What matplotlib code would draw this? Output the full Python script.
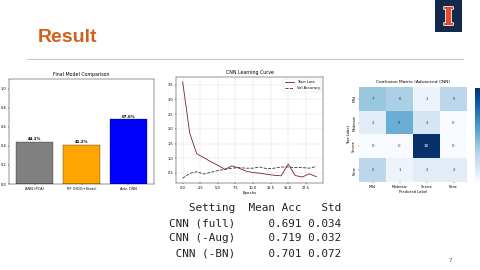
import matplotlib
matplotlib.use("Agg")
import matplotlib.pyplot as plt
import matplotlib.patheffects as pe
import numpy as np

# ---------------- data ----------------
models = ["ANN (PCA)", "RF (HOG+Stats)", "Adv. CNN"]
model_acc = [0.441, 0.412, 0.676]
bar_colors = ["gray", "orange", "blue"]

epochs = list(range(20))
train_loss = [3.60, 1.85, 1.15, 1.02, 0.88, 0.76, 0.62, 0.74, 0.66, 0.56,
              0.51, 0.49, 0.45, 0.42, 0.40, 0.80, 0.41, 0.36, 0.47, 0.37]
val_acc = [0.32, 0.48, 0.54, 0.46, 0.52, 0.58, 0.62, 0.66, 0.68, 0.66,
           0.66, 0.70, 0.64, 0.66, 0.70, 0.70, 0.68, 0.68, 0.66, 0.72]

classes = ["Mild", "Moderate", "Severe", "None"]
conf = np.array([[7, 6, 1, 5],
                 [2, 9, 3, 0],
                 [0, 0, 18, 0],
                 [5, 1, 2, 2]])

settings = ["CNN (full)", "CNN (-Aug)", "CNN (-BN)"]
mean_acc = [0.691, 0.719, 0.701]
std_acc = [0.034, 0.032, 0.072]

# ---------------- figure ----------------
W, H = 480, 270
fig = plt.figure(figsize=(W / 100, H / 100), dpi=100)
fig.patch.set_facecolor("white")


def px_axes(x0, y0, x1, y1, **kw):
    return fig.add_axes([x0 / W, 1 - y1 / H, (x1 - x0) / W, (y1 - y0) / H], **kw)


def fx(x):
    return x / W


def fy(y):
    return 1 - y / H


# slide title
fig.text(fx(38), fy(37), "Result", color="#D2601A", fontsize=14, fontweight="bold",
         family="Liberation Sans", va="center", ha="left")
fig.add_artist(plt.Line2D([fx(27), fx(463)], [fy(59), fy(59)], color="#c8c8c8", lw=0.8))

# logo
logo = px_axes(435, 0, 462, 32)
logo.set_facecolor("#13294B")
logo.set_xticks([]); logo.set_yticks([])
for s in logo.spines.values():
    s.set_visible(False)
logo.text(0.5, 0.45, "I", color="#E84A27", fontsize=17, fontweight="bold",
          family="DejaVu Serif", ha="center", va="center",
          path_effects=[pe.withStroke(linewidth=1.2, foreground="white")])

# page number
fig.text(fx(450), fy(260), "7", fontsize=4, color="#555555", ha="center", va="center")

tick_fs = 2.6

# ---------------- bar chart ----------------
ax1 = px_axes(9, 79, 154, 184)
ax1.bar(range(len(models)), model_acc, color=bar_colors, width=0.8,
        edgecolor="black", linewidth=0.2)
for i, v in enumerate(model_acc):
    ax1.text(i, v + 0.01, f"{v*100:.1f}%", ha="center", va="bottom",
             fontsize=2.8, fontweight="bold")
ax1.set_xlim(-0.55, 2.55)
ax1.set_ylim(0, 1.1)
ax1.set_xticks(range(len(models)))
ax1.set_xticklabels(models)
ax1.set_yticks([0, 0.2, 0.4, 0.6, 0.8, 1.0])
ax1.tick_params(labelsize=tick_fs, length=1, width=0.3, pad=1)
ax1.set_title("Final Model Comparison", fontsize=3.4, pad=2)
for s in ax1.spines.values():
    s.set_linewidth(0.3)

# ---------------- learning curve ----------------
ax2 = px_axes(176, 77, 323, 183)
ax2.plot(epochs, train_loss, color="#7b1e3c", lw=0.6, label="Train Loss")
ax2.plot(epochs, val_acc, color="#333333", lw=0.6, ls="--", label="Val Accuracy")
ax2.set_xticks([0, 2.5, 5, 7.5, 10, 12.5, 15, 17.5])
ax2.set_yticks([0.5, 1.0, 1.5, 2.0, 2.5, 3.0, 3.5])
ax2.tick_params(labelsize=tick_fs, length=1, width=0.3, pad=1)
ax2.grid(True, color="#dddddd", lw=0.3)
ax2.set_title("CNN Learning Curve", fontsize=3.4, pad=2)
ax2.set_xlabel("Epochs", fontsize=2.8, labelpad=1)
leg = ax2.legend(fontsize=2.6, loc="upper right", frameon=True, handlelength=2.5)
leg.get_frame().set_linewidth(0.3)
for s in ax2.spines.values():
    s.set_linewidth(0.3)

# ---------------- confusion matrix ----------------
ax3 = px_axes(359, 87, 467, 182)
vmax = conf.max()
ax3.imshow(conf, cmap="Blues", aspect="auto", vmin=0, vmax=vmax)
for i in range(conf.shape[0]):
    for j in range(conf.shape[1]):
        v = conf[i, j]
        ax3.text(j, i, str(v), ha="center", va="center", fontsize=2.8,
                 color="white" if v > vmax / 2 else "#333333")
ax3.set_xticks(range(len(classes)))
ax3.set_xticklabels(classes)
ax3.set_yticks(range(len(classes)))
ax3.set_yticklabels(classes, rotation=90, va="center")
ax3.tick_params(labelsize=2.4, length=1, width=0.3, pad=1)
ax3.set_xlabel("Predicted Label", fontsize=2.6, labelpad=1)
ax3.set_ylabel("True Label", fontsize=2.6, labelpad=1)
ax3.set_title("Confusion Matrix (Advanced CNN)", fontsize=3.2, pad=3)
for s in ax3.spines.values():
    s.set_visible(False)

cax = px_axes(475, 88, 482, 182)
sm = plt.cm.ScalarMappable(cmap="Blues", norm=plt.Normalize(0, vmax))
cb = fig.colorbar(sm, cax=cax)
cb.outline.set_visible(False)
cb.set_ticks([])

# ---------------- ablation table ----------------
header = f"{'Setting':>10}  {'Mean Acc':>8} {'Std':>5}"
rows = [f"{s:>10}  {m:>8.3f} {d:>5.3f}" for s, m, d in zip(settings, mean_acc, std_acc)]
for k, line in enumerate([header] + rows):
    fig.text(fx(169), fy(208 + 15 * k), line, family="DejaVu Sans Mono",
             fontsize=7.9, ha="left", va="center", color="#222222")

fig.savefig("out.png", dpi=100, facecolor="white")
